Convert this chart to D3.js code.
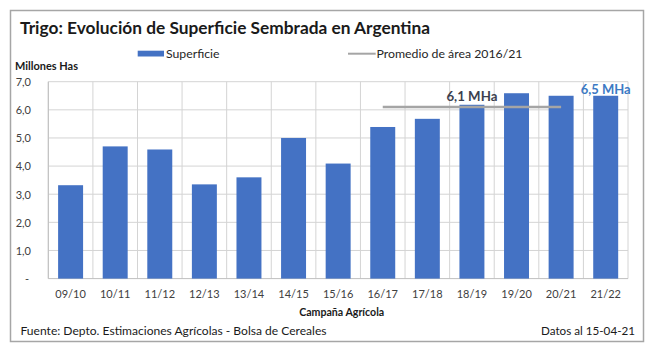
<!DOCTYPE html>
<html><head><meta charset="utf-8">
<script src="https://cdn.jsdelivr.net/npm/d3@7/dist/d3.min.js"></script>
<style>body{margin:0;background:#fff}svg{display:block;font-family:Lato,"Open Sans",sans-serif}</style>
</head><body>
<script>
const categories = ["09/10","10/11","11/12","12/13","13/14","14/15","15/16","16/17","17/18","18/19","19/20","20/21","21/22"];
const superficie = [3.32,4.7,4.59,3.35,3.6,5.0,4.09,5.39,5.68,6.18,6.59,6.5,6.5];
const promedioValue = 6.1;
const promedioRange = ["16/17","20/21"];
const yTicks = [0,1,2,3,4,5,6,7];
const yTickLabels = ["-","1,0","2,0","3,0","4,0","5,0","6,0","7,0"];
const title = "Trigo: Evolución de Superficie Sembrada en Argentina";
const labelAvg = "6,1 MHa";
const labelLast = "6,5 MHa";

const W=654,H=352;
const svg=d3.select("body").append("svg").attr("width",W).attr("height",H);
svg.append("rect").attr("width",W).attr("height",H).attr("fill","#fff");
svg.append("rect").attr("x",10.5).attr("y",10.5).attr("width",633).attr("height",331)
  .attr("fill","#fff").attr("stroke","#a6a6a6").attr("stroke-width",1.5);

const x=d3.scaleBand().domain(categories).range([48.3,628]).paddingInner(0.44).paddingOuter(0.22);
const y=d3.scaleLinear().domain([0,7]).range([278.6,81.7]);

// horizontal gridlines
svg.append("g").selectAll("line").data(yTicks.slice(1)).join("line")
  .attr("x1",48.3).attr("x2",628).attr("y1",d=>y(d)).attr("y2",d=>y(d))
  .attr("stroke","#d4d4d4").attr("stroke-width",1);
// vertical gridlines at band boundaries
const step=x.step();
const bounds=d3.range(categories.length+1).map(i=>48.3+i*step);
svg.append("g").selectAll("line").data(bounds).join("line")
  .attr("x1",d=>d).attr("x2",d=>d).attr("y1",y(7)).attr("y2",y(0))
  .attr("stroke","#d4d4d4").attr("stroke-width",1);
// axes lines
svg.append("line").attr("x1",48.3).attr("x2",48.3).attr("y1",y(7)).attr("y2",y(0)).attr("stroke","#bfbfbf");
svg.append("line").attr("x1",48.3).attr("x2",628).attr("y1",y(0)).attr("y2",y(0)).attr("stroke","#bfbfbf");

// y tick labels
svg.append("g").selectAll("text").data(yTicks).join("text")
  .attr("x",(d,i)=>i===0?29:31).attr("y",d=>y(d)).attr("dy","0.4em")
  .attr("text-anchor","end").attr("font-size",11).attr("fill","#404040")
  .text((d,i)=>yTickLabels[i]);

// x tick labels
svg.append("g").selectAll("text").data(categories).join("text")
  .attr("x",d=>x(d)+x.bandwidth()/2).attr("y",298.3).attr("text-anchor","middle")
  .attr("font-size",11).attr("fill","#404040").text(d=>d);

// bars
svg.append("g").selectAll("rect").data(categories).join("rect")
  .attr("x",d=>x(d)).attr("width",x.bandwidth())
  .attr("y",(d,i)=>y(superficie[i])).attr("height",(d,i)=>y(0)-y(superficie[i]))
  .attr("fill","#4472C4");

// average line
const ax1=x(promedioRange[0])+x.bandwidth()/2, ax2=x(promedioRange[1])+x.bandwidth()/2;
svg.append("line").attr("x1",ax1).attr("x2",ax2).attr("y1",y(promedioValue)).attr("y2",y(promedioValue))
  .attr("stroke","#a5a5a5").attr("stroke-width",2.5);

// annotations
svg.append("text").attr("x",x("18/19")+x.bandwidth()/2).attr("y",100.5).attr("text-anchor","middle")
  .attr("font-size",13).attr("font-weight","bold").attr("fill","#3b3f4e")
  .attr("textLength",51).attr("lengthAdjust","spacingAndGlyphs").text(labelAvg);
svg.append("text").attr("x",x("21/22")+x.bandwidth()/2).attr("y",93.5).attr("text-anchor","middle")
  .attr("font-size",13).attr("font-weight","bold").attr("fill","#3c7ac4")
  .attr("textLength",50).attr("lengthAdjust","spacingAndGlyphs").text(labelLast);

// title
svg.append("text").attr("x",20).attr("y",34).attr("font-size",17).attr("font-weight","bold")
  .attr("fill","#1a1a1a").attr("textLength",410).attr("lengthAdjust","spacingAndGlyphs").text(title);

// legend
svg.append("rect").attr("x",137.7).attr("y",50.7).attr("width",26.3).attr("height",5.8).attr("fill","#4472C4");
svg.append("text").attr("x",166).attr("y",58).attr("font-size",12).attr("fill","#262626")
  .attr("textLength",53.5).attr("lengthAdjust","spacingAndGlyphs").text("Superficie");
svg.append("line").attr("x1",348).attr("x2",375.7).attr("y1",53.7).attr("y2",53.7).attr("stroke","#a5a5a5").attr("stroke-width",2);
svg.append("text").attr("x",376.5).attr("y",58).attr("font-size",12).attr("fill","#262626")
  .attr("textLength",146).attr("lengthAdjust","spacingAndGlyphs").text("Promedio de área 2016/21");

// axis titles
svg.append("text").attr("x",15).attr("y",70).attr("font-size",11).attr("font-weight","bold").attr("fill","#1a1a1a")
  .attr("textLength",63).attr("lengthAdjust","spacingAndGlyphs").text("Millones Has");
svg.append("text").attr("x",341.7).attr("y",316).attr("text-anchor","middle").attr("font-size",11).attr("font-weight","bold").attr("fill","#1a1a1a")
  .attr("textLength",85).attr("lengthAdjust","spacingAndGlyphs").text("Campaña Agrícola");

// footer
svg.append("text").attr("x",20.5).attr("y",335).attr("font-size",12).attr("fill","#1a1a1a")
  .attr("textLength",306).attr("lengthAdjust","spacingAndGlyphs").text("Fuente: Depto. Estimaciones Agrícolas - Bolsa de Cereales");
svg.append("text").attr("x",635).attr("y",334.5).attr("text-anchor","end").attr("font-size",12).attr("fill","#1a1a1a")
  .attr("textLength",94).attr("lengthAdjust","spacingAndGlyphs").text("Datos al 15-04-21");
</script>
</body></html>
